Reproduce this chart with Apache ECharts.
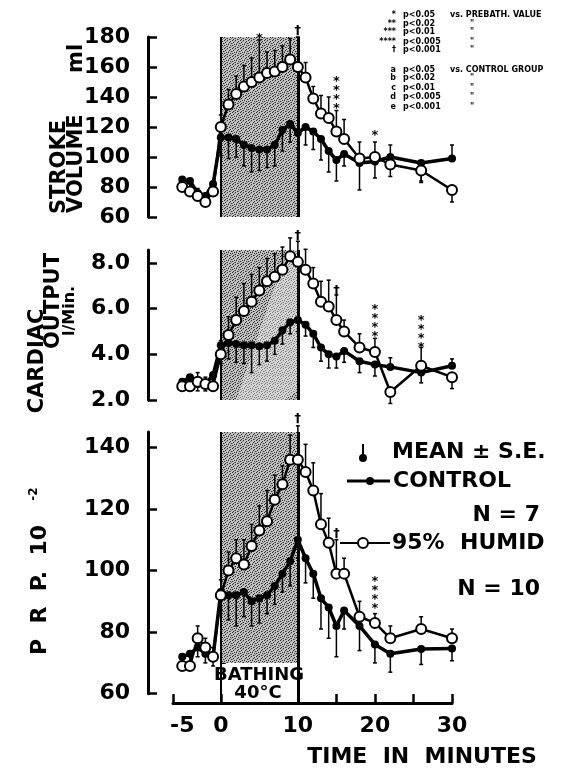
<!DOCTYPE html>
<html>
<head>
<meta charset="utf-8">
<script src="https://cdn.jsdelivr.net/npm/echarts@6/dist/echarts.min.js"></script>
<style>
  html, body { margin: 0; padding: 0; background: #fff; }
  #chart { width: 562px; height: 771px; }
</style>
</head>
<body>
<div id="chart"></div>
<script>
// Sampling times (minutes); bath runs from 0 to 10
const times = [-5, -4, -3, -2, -1, 0, 1, 2, 3, 4, 5, 6, 7, 8, 9, 10, 11, 12, 13, 14, 15, 16, 18, 20, 22, 26, 30];

// Stroke volume (ml), mean and signed S.E. (sign = side the bar is drawn on)
const svControl   = [85, 84, 76, 74, 82, 113, 113, 112, 108, 106, 105, 105, 108, 118, 122, 116, 120, 117, 112, 104, 98, 102, 96, 97, 100, 96, 99];
const svHumid     = [80, 77, 74, 70, 77, 120, 135, 142, 147, 150, 153, 156, 157, 160, 165, 160, 153, 139, 129, 126, 117, 112, 99, 100, 95, 91, 78];
const svControlSE = [-5, -6, -5, -6, -8, -12, -14, -12, -14, -16, -14, -12, -14, -14, -12, -10, -12, -12, -14, -14, -14, -8, -18, -11, 8, -12, 9];
const svHumidSE   = [6, 6, 5, 5, 6, 8, 10, 12, 14, 16, 25, 14, 14, 14, 14, 20, 10, 8, 12, 14, 14, 13, 11, 10, -8, -8, -8];

// Cardiac output (l/min)
const coControl   = [2.8, 3.0, 2.7, 2.7, 3.1, 4.4, 4.5, 4.45, 4.4, 4.4, 4.35, 4.4, 4.6, 5.05, 5.4, 5.5, 5.3, 4.9, 4.3, 4.0, 3.9, 4.15, 3.7, 3.55, 3.45, 3.2, 3.5];
const coHumid     = [2.6, 2.6, 2.8, 2.7, 2.6, 4.0, 4.85, 5.5, 5.9, 6.3, 6.8, 7.2, 7.4, 7.7, 8.3, 8.05, 7.7, 7.1, 6.3, 6.1, 5.5, 5.0, 4.3, 4.1, 2.35, 3.5, 3.0];
const coControlSE = [-0.3, -0.4, -0.3, -0.3, -0.3, -0.8, -0.7, -0.8, -0.8, -1.2, -0.8, -0.7, -0.6, -0.6, -0.5, -0.5, -0.5, -0.6, -0.6, -0.6, -0.5, -0.5, -0.5, -0.5, 0.4, -0.45, 0.3];
const coHumidSE   = [0.3, 0.3, 0.4, 0.3, 0.3, 0.6, 0.8, 1.0, 1.2, 1.2, 1.0, 1.0, 1.0, 1.0, 0.8, 0.9, 0.9, 0.7, 0.9, 1.15, 1.1, 0.5, 0.6, 0.6, -0.5, 0.8, -0.5];

// Pressure-rate product (x10^-2)
const prpControl   = [72, 73, 75, 73, 72, 93, 92, 92, 93, 90, 91, 92, 95, 99, 103, 110, 104, 99, 91, 88, 82, 87, 82, 76, 73, 74.5, 74.7];
const prpHumid     = [69, 69, 78, 75, 72, 92, 100, 104, 102, 108, 113, 116, 123, 128, 136, 136, 132, 126, 115, 109, 99, 99, 85, 83, 78, 81, 78];
const prpControlSE = [-3, -3, -3, -3, -3, -6, -8, -10, -8, -8, -8, -6, -6, -6, -8, -6, -8, -8, -10, -10, -10, -6, -8, -6, -6, -5, -4];
const prpHumidSE   = [3, 4, 4, 3, 3, 5, 6, 6, 8, 7, 8, 10, 8, 6, 8, 11, 9, 9, 10, 8, 11, 5, 5, 3, 4, 4, 3];

// Significance marks: time, value, symbol
const sigSvT = [5, 10, 15, 20],  sigSvV = [179, 184, 141, 114],   sigSvS = ['*', '†', '****', '*'];
const sigCoT = [10, 15, 20, 26], sigCoV = [9.2, 6.8, 5.35, 4.9], sigCoS = ['†', '†', '****', '****'];
const sigPrT = [10, 15, 20],     sigPrV = [149.5, 112, 92],      sigPrS = ['†', '†', '****'];

// Axis ticks and labels
const xTickValues  = [-6.2, 0, 10, 15, 20, 25, 30];
const xLabelValues = [-5, 0, 10, 20, 30];
const svMajor = [60, 80, 100, 120, 140, 160, 180], svMinor = [70, 90, 110, 130, 150, 170];
const coMajor = [2, 4, 6, 8],                      coMinor = [3, 5, 7];
const prMajor = [60, 80, 100, 120, 140],           prMinor = [70, 90, 110, 130];

const FONT = '"DejaVu Sans", sans-serif';
const BLACK = '#000';

// Stippled fill for the bathing period (fixed 8x8 speckle tile)
const stipple = document.createElement('canvas');
stipple.width = 8; stipple.height = 8;
(function () {
  const c = stipple.getContext('2d');
  c.fillStyle = '#c6c6c6';
  c.fillRect(0, 0, 8, 8);
  c.fillStyle = '#1e1e1e';
  [[0, 0], [3, 0], [6, 1], [1, 2], [5, 2], [7, 3], [2, 4], [4, 4], [0, 5], [6, 5],
   [3, 6], [1, 7], [5, 7]].forEach(p => c.fillRect(p[0], p[1], 1, 1));
  c.fillStyle = '#7a7a7a';
  [[2, 1], [4, 3], [7, 6], [0, 3], [6, 7], [2, 6]].forEach(p => c.fillRect(p[0], p[1], 1, 1));
})();

const pairs = (vals) => times.map((t, i) => [t, vals[i]]);

const panels = [
  { top: 37,  bottom: 217,   min: 60, max: 180,  major: svMajor, minor: svMinor, fmt: v => String(v),
    ctrl: svControl, hum: svHumid, ctrlSE: svControlSE, humSE: svHumidSE, sigT: sigSvT, sigV: sigSvV, sigS: sigSvS },
  { top: 250, bottom: 400,   min: 2,  max: 8.57, major: coMajor, minor: coMinor, fmt: v => Number(v).toFixed(1),
    ctrl: coControl, hum: coHumid, ctrlSE: coControlSE, humSE: coHumidSE, sigT: sigCoT, sigV: sigCoV, sigS: sigCoS },
  { top: 432, bottom: 693.7, min: 60, max: 145,  major: prMajor, minor: prMinor, fmt: v => String(v),
    ctrl: prpControl, hum: prpHumid, ctrlSE: prpControlSE, humSE: prpHumidSE, sigT: sigPrT, sigV: sigPrV, sigS: sigPrS }
];

const LEFT = 173, RIGHT = 110;
const grids = panels.map(p => ({ left: LEFT, right: RIGHT, top: p.top, height: p.bottom - p.top }));
grids.push({ left: LEFT, right: RIGHT, top: 432, height: 703 - 432 }); // time axis + bath frame

const xAxes = [0, 1, 2].map(g => ({ type: 'value', gridIndex: g, min: -6.2, max: 30, show: false }));
xAxes.push({
  type: 'value', gridIndex: 3, min: -6.2, max: 30, position: 'bottom',
  axisLine: { show: true, onZero: false, lineStyle: { color: BLACK, width: 3 } },
  axisTick: { show: true, inside: true, length: 9, customValues: xTickValues, lineStyle: { color: BLACK, width: 2.5 } },
  axisLabel: { show: true, customValues: xLabelValues, margin: 12, color: BLACK, fontFamily: FONT, fontWeight: 'bold', fontSize: 22 },
  splitLine: { show: false }
});

const yAxes = [];
panels.forEach((p, g) => {
  yAxes.push({
    type: 'value', gridIndex: g, min: p.min, max: p.max, position: 'left', offset: 25,
    axisLine: { show: true, onZero: false, lineStyle: { color: BLACK, width: 3 } },
    axisTick: { show: true, inside: true, length: 9, customValues: p.major, lineStyle: { color: BLACK, width: 2.5 } },
    axisLabel: { show: true, customValues: p.major, formatter: p.fmt, margin: 18, color: BLACK, fontFamily: FONT, fontWeight: 'bold', fontSize: 22 },
    splitLine: { show: false }
  });
  yAxes.push({
    type: 'value', gridIndex: g, min: p.min, max: p.max, position: 'left', offset: 25,
    axisLine: { show: false },
    axisTick: { show: true, inside: true, length: 5, customValues: p.minor, lineStyle: { color: BLACK, width: 2 } },
    axisLabel: { show: false }, splitLine: { show: false }
  });
});
yAxes.push({ type: 'value', gridIndex: 3, min: 0, max: 1, show: false });

function errBar(params, api) {
  const t = api.value(0), v = api.value(1), se = api.value(2);
  const a = api.coord([t, v]);
  const b = api.coord([t, v + se]);
  return {
    type: 'group',
    children: [
      { type: 'line', shape: { x1: a[0], y1: a[1], x2: b[0], y2: b[1] }, style: { stroke: BLACK, lineWidth: 1.5 } },
      { type: 'line', shape: { x1: b[0] - 2, y1: b[1], x2: b[0] + 2, y2: b[1] }, style: { stroke: BLACK, lineWidth: 1.5 } }
    ]
  };
}

const series = [];
panels.forEach((p, g) => {
  const ax = { xAxisIndex: g, yAxisIndex: g * 2 };
  const frame = {
    type: 'line', ...ax, data: [], z: 1, silent: true,
    markArea: {
      silent: true,
      itemStyle: { color: { image: stipple, repeat: 'repeat' } },
      data: g === 2 ? [[{ xAxis: 0, yAxis: 70 }, { xAxis: 10, yAxis: 145 }]] : [[{ xAxis: 0 }, { xAxis: 10 }]]
    }
  };
  if (g < 2) {
    frame.markLine = {
      silent: true, symbol: ['none', 'none'], label: { show: false },
      lineStyle: { color: BLACK, type: 'solid', width: 2 },
      data: [{ xAxis: 0 }, { xAxis: 10, lineStyle: { width: 3, color: BLACK, type: 'solid' } }]
    };
  }
  series.push(frame);

  // lighter band between the two group means
  series.push({
    type: 'line', ...ax, data: pairs(p.ctrl), stack: 'band' + g, stackStrategy: 'all',
    symbol: 'none', lineStyle: { opacity: 0 }, silent: true, z: 2
  });
  series.push({
    type: 'line', ...ax, data: times.map((t, i) => [t, p.hum[i] - p.ctrl[i]]), stack: 'band' + g, stackStrategy: 'all',
    symbol: 'none', lineStyle: { opacity: 0 }, areaStyle: { color: 'rgba(255,255,255,0.5)' }, silent: true, z: 2
  });

  series.push({ type: 'custom', ...ax, renderItem: errBar, data: times.map((t, i) => [t, p.ctrl[i], p.ctrlSE[i]]), z: 3, silent: true });
  series.push({ type: 'custom', ...ax, renderItem: errBar, data: times.map((t, i) => [t, p.hum[i], p.humSE[i]]), z: 3, silent: true });

  series.push({
    type: 'line', ...ax, name: 'CONTROL', data: pairs(p.ctrl), z: 4, clip: false,
    symbol: 'circle', symbolSize: 8, itemStyle: { color: BLACK },
    lineStyle: { color: BLACK, width: 3.5 }
  });
  series.push({
    type: 'line', ...ax, name: '95% HUMID', data: pairs(p.hum), z: 5, clip: false,
    symbol: 'circle', symbolSize: 10, itemStyle: { color: '#fff', borderColor: BLACK, borderWidth: 2 },
    lineStyle: { color: BLACK, width: 2.5 }
  });

  series.push({
    type: 'custom', ...ax, z: 6, silent: true,
    data: p.sigT.map((t, i) => [t, p.sigV[i], i]),
    renderItem: (params, api) => {
      const pt = api.coord([api.value(0), api.value(1)]);
      const s = p.sigS[api.value(2)];
      return {
        type: 'text',
        style: {
          text: s.split('').join('\n'), x: pt[0], y: pt[1],
          align: 'center', verticalAlign: 'middle', textAlign: 'center', textVerticalAlign: 'middle',
          font: 'bold 13px ' + FONT, lineHeight: 9, fill: BLACK
        }
      };
    }
  });
});

// frame lines of the bathing period down to the time axis
series.push({
  type: 'line', xAxisIndex: 3, yAxisIndex: 6, data: [], z: 3, silent: true,
  markLine: {
    silent: true, symbol: ['none', 'none'], label: { show: false },
    lineStyle: { color: BLACK, type: 'solid', width: 2 },
    data: [{ xAxis: 0 }, { xAxis: 10, lineStyle: { width: 3, color: BLACK, type: 'solid' } }]
  }
});

function text(x, y, str, size, opt) {
  opt = opt || {};
  return {
    type: 'text', x: x, y: y, rotation: opt.rot || 0, z: 10, silent: true,
    style: {
      text: str, font: 'bold ' + size + 'px ' + FONT, fill: BLACK,
      textAlign: opt.align || 'left', align: opt.align || 'left',
      textVerticalAlign: 'middle', verticalAlign: 'middle'
    }
  };
}
const R = Math.PI / 2;

const graphics = [
  // axis titles
  text(60, 214, 'STROKE', 21, { rot: R }),
  text(77, 213, 'VOLUME', 21, { rot: R }),
  text(77, 73, 'ml', 21, { rot: R }),
  text(38, 361, 'CARDIAC', 21, { rot: R, align: 'center' }),
  text(54, 301, 'OUTPUT', 21, { rot: R, align: 'center' }),
  text(70, 311, 'l/Min.', 16, { rot: R, align: 'center' }),
  text(40, 655, 'P  R  P.  10', 22, { rot: R }),
  text(34, 494, '-2', 12, { rot: R, align: 'center' }),
  text(422, 757, 'TIME  IN  MINUTES', 22, { align: 'center' }),
  text(259, 675, 'BATHING', 18, { align: 'center' }),
  text(258, 693, '40°C', 18, { align: 'center' }),

  // key
  { type: 'line', z: 10, shape: { x1: 363, y1: 444, x2: 363, y2: 455 }, style: { stroke: BLACK, lineWidth: 2 } },
  { type: 'circle', z: 10, shape: { cx: 363, cy: 458, r: 4 }, style: { fill: BLACK } },
  text(392, 452, 'MEAN ± S.E.', 22),
  { type: 'line', z: 10, shape: { x1: 347, y1: 481, x2: 390, y2: 481 }, style: { stroke: BLACK, lineWidth: 3 } },
  { type: 'circle', z: 10, shape: { cx: 370, cy: 481, r: 4 }, style: { fill: BLACK } },
  text(393, 481, 'CONTROL', 22),
  text(540, 515, 'N = 7', 22, { align: 'right' }),
  { type: 'line', z: 10, shape: { x1: 340, y1: 543, x2: 390, y2: 543 }, style: { stroke: BLACK, lineWidth: 2 } },
  { type: 'circle', z: 11, shape: { cx: 363, cy: 543, r: 5 }, style: { fill: '#fff', stroke: BLACK, lineWidth: 2 } },
  text(392, 543, '95%  HUMID', 22),
  text(540, 589, 'N = 10', 22, { align: 'right' })
];

// significance notes
const noteSym = ['*', '**', '***', '****', '†', 'a', 'b', 'c', 'd', 'e'];
const noteP   = ['p<0.05', 'p<0.02', 'p<0.01', 'p<0.005', 'p<0.001', 'p<0.05', 'p<0.02', 'p<0.01', 'p<0.005', 'p<0.001'];
const noteRef = ['vs. PREBATH. VALUE', '"', '"', '"', '"', 'vs. CONTROL GROUP', '"', '"', '"', '"'];
const noteRowY = [15, 24, 32, 42, 50, 70, 78, 88, 97, 107];
noteSym.forEach((s, i) => {
  const y = noteRowY[i];
  graphics.push(text(396, y, s, 8, { align: 'right' }));
  graphics.push(text(403, y, noteP[i], 8));
  graphics.push(noteRef[i].length > 1 ? text(450, y, noteRef[i], 8) : text(472, y, noteRef[i], 8, { align: 'center' }));
});

const chart = echarts.init(document.getElementById('chart'), null, { renderer: 'canvas' });
chart.setOption({
  backgroundColor: '#fff',
  animation: false,
  grid: grids,
  xAxis: xAxes,
  yAxis: yAxes,
  series: series,
  graphic: graphics
});
</script>
</body>
</html>
